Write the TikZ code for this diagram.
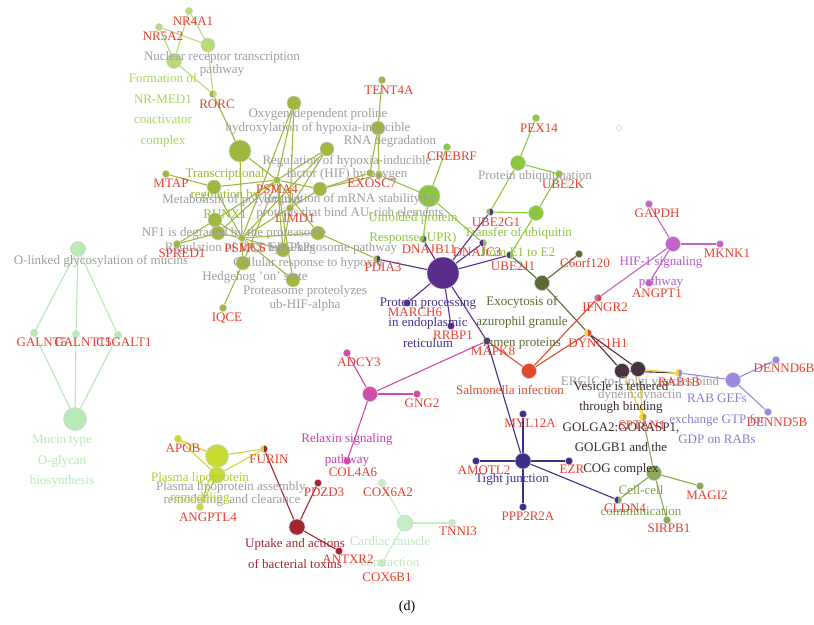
\documentclass[tikz,border=0pt]{standalone}
\usepackage{fontspec}
\setmainfont{Liberation Serif}
\usetikzlibrary{backgrounds}
\definecolor{genered}{HTML}{E8402F}
\definecolor{lgray}{HTML}{9E9E9E}
\definecolor{cLime}{HTML}{BADC76}
\definecolor{cLimeT}{HTML}{AAD463}
\definecolor{cOl}{HTML}{A0B83E}
\definecolor{cOlT}{HTML}{95B83A}
\definecolor{cGr}{HTML}{8DC63F}
\definecolor{cPu}{HTML}{5B2D8A}
\definecolor{cPuT}{HTML}{4A2C8C}
\definecolor{cDo}{HTML}{5B6B36}
\definecolor{cRed}{HTML}{E04A2C}
\definecolor{cHif}{HTML}{C463C8}
\definecolor{cHifT}{HTML}{B55CC8}
\definecolor{cRlx}{HTML}{D44AAB}
\definecolor{cRlxT}{HTML}{C93FAE}
\definecolor{cTj}{HTML}{3C2F8C}
\definecolor{cCc}{HTML}{8CA858}
\definecolor{cCcT}{HTML}{7FA04C}
\definecolor{cRab}{HTML}{9C88DC}
\definecolor{cRabT}{HTML}{8E7CD4}
\definecolor{cVes}{HTML}{4A3242}
\definecolor{cVesT}{HTML}{3A2A32}
\definecolor{cYel}{HTML}{F2D42C}
\definecolor{cPl}{HTML}{C8DA36}
\definecolor{cPlT}{HTML}{BACD2A}
\definecolor{cUp}{HTML}{A3262F}
\definecolor{cCm}{HTML}{C6EEC6}
\definecolor{cCmT}{HTML}{BDE8BD}
\definecolor{cMu}{HTML}{B9E9B9}
\begin{document}
\begin{tikzpicture}[x=1pt,y=-1pt,
  term/.style={circle, fill=#1, draw=black!18, line width=0.5pt, inner sep=0pt},
  gene/.style={circle, fill=#1, draw=black!15, line width=0.4pt, inner sep=0pt, minimum size=7.5pt},
  genetwo/.style n args={2}{circle, fill=#1, draw=black!15, line width=0.4pt, inner sep=0pt, minimum size=7.5pt,
     path picture={\fill[#2] (path picture bounding box.south) rectangle (path picture bounding box.north east);}},
  glab/.style={text=genered, inner sep=0pt, font=\fontsize{13}{13}\selectfont},
  graylab/.style={text=lgray, inner sep=0pt, align=center, font=\fontsize{13}{13.5}\selectfont},
  tlab/.style={text=#1, inner sep=0pt, align=center, font=\fontsize{13}{20.5}\selectfont},
  eg/.style={draw=#1, line width=1.1pt}
]
\useasboundingbox (0,0) rectangle (814,624);

% ---------- top-left cluster ----------
\node[term=cLime, minimum size=14pt] (nuc) at (208,45) {};
\node[term=cLime, minimum size=15pt] (form) at (174,61) {};
\node[gene=cLime] (nr4a1) at (189,11) {};
\node[gene=cLime] (nr5a2) at (159,27) {};
\node[genetwo={cOl}{cLime}] (rorc) at (213,94) {};

% ---------- olive cluster ----------
\node[term=cOl, minimum size=14pt] (toxy) at (294,103) {};
\node[term=cOl, minimum size=22pt] (trunx) at (240,151) {};
\node[term=cOl, minimum size=14pt] (thif) at (327,149) {};
\node[term=cOl, minimum size=14pt] (trna) at (378,128) {};
\node[term=cOl, minimum size=14pt] (tpoly) at (214,187) {};
\node[term=cOl, minimum size=14pt] (tmrna) at (320,189) {};
\node[term=cOl, minimum size=14pt] (tnf) at (215,220) {};
\node[term=cOl, minimum size=14pt] (treg) at (218,233) {};
\node[term=cOl, minimum size=14pt] (ter) at (318,233) {};
\node[term=cOl, minimum size=14pt] (thyp) at (283,250) {};
\node[term=cOl, minimum size=14pt] (thh) at (243,263) {};
\node[term=cOl, minimum size=14pt] (tprot) at (293,280) {};
\node[gene=cOl] (psma4) at (277,180) {};
\node[gene=cOl] (limd1) at (290,208) {};
\node[gene=cOl] (psmc6) at (242,238) {};
\node[gene=cOl] (mtap) at (166,174) {};
\node[gene=cOl] (spred1) at (177,244) {};
\node[gene=cOl] (iqce) at (223,308) {};
\node[gene=cOl] (exa) at (370,173) {};
\node[genetwo={cOl}{cGr}] (exb) at (379,175) {};
\node[gene=cOl] (tent4a) at (382,80) {};
\node[genetwo={cOl}{cPu}] (pdia3) at (377,259) {};

% ---------- green (UPR / ubiquitin) ----------
\node[term=cGr, minimum size=22pt] (upr) at (429,196) {};
\node[term=cGr, minimum size=15pt] (pu) at (518,163) {};
\node[term=cGr, minimum size=15pt] (tu) at (536,213) {};
\node[gene=cGr] (crebrf) at (447,147) {};
\node[genetwo={cGr}{cPu}] (dnajb11) at (423,239) {};
\node[genetwo={cPu}{cGr}] (dnajc3) at (483,243) {};
\node[gene=cGr] (pex14) at (536,118) {};
\node[gene=cGr] (ube2k) at (559,174) {};
\node[genetwo={cGr}{cPu}] (ube2g1) at (490,212) {};
\node[genetwo={cPu}{cGr}] (ube2j1) at (510,255) {};

% ---------- purple ----------
\node[term=cPu, minimum size=32pt] (pp) at (443,273) {};
\node[gene=cPu] (march6) at (407,303) {};
\node[gene=cPu] (rrbp1) at (451,326) {};
\node[genetwo={cPu}{cTj}] (mapk8) at (487,341) {};

% ---------- exocytosis ----------
\node[term=cDo, minimum size=15pt] (exo) at (542,283) {};
\node[gene=cDo] (c6orf) at (579,254) {};

% ---------- HIF ----------
\node[term=cHif, minimum size=15pt] (hif) at (673,244) {};
\node[gene=cHif] (gapdh) at (649,204) {};
\node[gene=cHif] (mknk1) at (720,244) {};
\node[gene=cHif] (angpt1) at (649,283) {};
\node[genetwo={cHif}{cRed}] (ifngr2) at (598,298) {};

% ---------- salmonella ----------
\node[term=cRed, minimum size=15pt] (salm) at (529,371) {};
\node[genetwo={cYel}{cRed}] (dync) at (588,333) {};

% ---------- relaxin ----------
\node[term=cRlx, minimum size=15pt] (rlx) at (370,394) {};
\node[gene=cRlx] (adcy3) at (347,353) {};
\node[gene=cRlx] (gng2) at (417,394) {};
\node[gene=cRlx] (col4a6) at (347,461) {};

% ---------- vesicle ----------
\node[term=cVes, minimum size=15pt] (vesa) at (622,371) {};
\node[term=cVes, minimum size=15pt] (vesb) at (638,369) {};
\node[genetwo={cYel}{cRab}] (rab1b) at (679,373) {};
\node[genetwo={cYel}{cCc}] (sptan1) at (643,417) {};

% ---------- RAB GEFs ----------
\node[term=cRab, minimum size=15pt] (rab) at (733,380) {};
\node[gene=cRab] (dennd6b) at (776,360) {};
\node[gene=cRab] (dennd5b) at (768,412) {};

% ---------- tight junction ----------
\node[term=cTj, minimum size=16pt] (tj) at (523,461) {};
\node[gene=cTj] (myl12a) at (523,414) {};
\node[gene=cTj] (ezr) at (569,461) {};
\node[gene=cTj] (ppp2r2a) at (523,507) {};
\node[gene=cTj] (amotl2) at (476,461) {};
\node[genetwo={cTj}{cCc}] (cldn4) at (618,500) {};

% ---------- cell-cell ----------
\node[term=cCc, minimum size=15pt] (cc) at (654,473) {};
\node[gene=cCc] (magi2) at (700,486) {};
\node[gene=cCc] (sirpb1) at (667,520) {};

% ---------- mucin ----------
\node[term=cMu, minimum size=15pt] (olk) at (78,249) {};
\node[term=cMu, minimum size=23pt] (muc) at (75,419) {};
\node[gene=cMu] (galnta) at (34,333) {};
\node[gene=cMu] (galntb) at (76,334) {};
\node[gene=cMu] (c1galt1) at (118,335) {};

% ---------- plasma lipoprotein ----------
\node[term=cPl, minimum size=23pt] (pla) at (217,456) {};
\node[term=cPl, minimum size=16pt] (plr) at (217,475) {};
\node[gene=cPl] (apob) at (178,439) {};
\node[gene=cPl] (angptl4) at (200,507) {};
\node[genetwo={cPl}{cUp}] (furin) at (264,449) {};

% ---------- uptake ----------
\node[term=cUp, minimum size=16pt] (upt) at (297,527) {};
\node[gene=cUp] (pdzd3) at (318,483) {};
\node[gene=cUp] (antxr2) at (339,551) {};

% ---------- cardiac ----------
\node[term=cCm, minimum size=16pt] (card) at (405,523) {};
\node[gene=cCm] (cox6a2) at (382,483) {};
\node[gene=cCm] (tnni3) at (452,523) {};
\node[gene=cCm] (cox6b1) at (382,563) {};

\node[circle, draw=black!20, line width=0.6pt, inner sep=0pt, minimum size=5pt] (iso) at (619,128) {};

% ---------- edges ----------
\begin{scope}[on background layer]
\fill[white] (0,0) rectangle (814,624);
\foreach \a/\b in {nr5a2/form, nr5a2/nuc, nr4a1/nuc, nr4a1/form, form/rorc, nuc/rorc}
  \draw[eg=cLime] (\a) -- (\b);
\foreach \t in {toxy,trunx,thif,tpoly,tmrna,tnf,treg,ter,thyp,thh,tprot}{
  \draw[eg=cOl] (psma4) -- (\t);
  \draw[eg=cOl] (psmc6) -- (\t);}
\foreach \a/\b in {limd1/toxy, limd1/thif, limd1/thyp, mtap/tpoly, spred1/tnf, spred1/treg, iqce/thh,
  rorc/trunx, exa/trna, exb/trna, exa/tmrna, exb/tmrna, tent4a/trna, pdia3/ter}
  \draw[eg=cOl] (\a) -- (\b);
\foreach \a/\b in {crebrf/upr, dnajb11/upr, dnajc3/upr, exb/upr, pex14/pu, ube2k/pu, ube2k/tu,
  ube2g1/pu, ube2g1/tu, ube2j1/tu}
  \draw[eg=cGr] (\a) -- (\b);
\foreach \g in {pdia3, dnajb11, ube2g1, dnajc3, ube2j1, march6, rrbp1, mapk8}
  \draw[eg=cPu] (pp) -- (\g);
\foreach \g in {c6orf, ube2j1, dync}
  \draw[eg=cDo] (exo) -- (\g);
\foreach \g in {mapk8, ifngr2, dync}
  \draw[eg=cRed] (salm) -- (\g);
\foreach \g in {gapdh, mknk1, angpt1, ifngr2}
  \draw[eg=cHif] (hif) -- (\g);
\foreach \g in {adcy3, gng2, col4a6, mapk8}
  \draw[eg=cRlx] (rlx) -- (\g);
\draw[eg=cVes] (dync) -- (vesa);
\draw[eg=cVes] (dync) -- (vesb);
\draw[eg=cVes] (vesa) -- (rab1b);
\draw[eg=cYel] (vesb) -- (rab1b);
\draw[eg=cYel] (vesa) -- (sptan1);
\draw[eg=cYel] (vesb) -- (sptan1);
\foreach \g in {rab1b, dennd6b, dennd5b}
  \draw[eg=cRab] (rab) -- (\g);
\foreach \g in {myl12a, ezr, ppp2r2a, amotl2, cldn4, mapk8}
  \draw[eg=cTj] (tj) -- (\g);
\foreach \g in {sptan1, magi2, sirpb1, cldn4}
  \draw[eg=cCc] (cc) -- (\g);
\foreach \g in {galnta, galntb, c1galt1}{
  \draw[eg=cMu] (olk) -- (\g);
  \draw[eg=cMu] (\g) -- (muc);}
\foreach \g in {apob, furin, angptl4}{
  \draw[eg=cPl] (pla) -- (\g);
  \draw[eg=cPl] (plr) -- (\g);}
\foreach \g in {furin, pdzd3, antxr2}
  \draw[eg=cUp] (upt) -- (\g);
\foreach \g in {cox6a2, tnni3, cox6b1}
  \draw[eg=cCm] (card) -- (\g);
\end{scope}

% ---------- term labels ----------
\node[graylab] (l-nuc) at (222,64) {Nuclear receptor transcription\\pathway};
\node[tlab=cLimeT] (l-form) at (163,110.5) {Formation of\\NR-MED1\\coactivator\\complex};
\node[graylab] (l-oxy) at (318,121.5) {Oxygen-dependent proline\\hydroxylation of hypoxia-inducible};
\node[graylab] (l-rna) at (390,141) {RNA degradation};
\node[graylab] (l-hif2) at (347,168) {Regulation of hypoxia-inducible\\factor (HIF) by oxygen};
\node[graylab] (l-poly) at (232,200) {Metabolism of polyamines};
\node[graylab] (l-mrna) at (350,206.5) {Regulation of mRNA stability by\\proteins that bind AU-rich elements};
\node[tlab=cOlT] (l-runx) at (225,194) {Transcriptional\\regulation by\\RUNX1};
\node[graylab] (l-nf) at (234,233) {NF1 is degraded by the proteasome};
\node[graylab] (l-reg) at (240,248) {Regulation of RAS by GAPs};
\node[graylab] (l-er) at (333,248) {ER-Phagosome pathway};
\node[graylab] (l-hyp) at (308,263) {Cellular response to hypoxia};
\node[graylab] (l-hh) at (255,277) {Hedgehog 'on' state};
\node[graylab] (l-prot) at (305,298.5) {Proteasome proteolyzes\\ub-HIF-alpha};
\node[tlab=cGr] (l-upr) at (413,228.5) {Unfolded protein\\Response (UPR)};
\node[graylab] (l-pu) at (535,176) {Protein ubiquitination};
\node[tlab=cGr] (l-tu) at (518,242) {Transfer of ubiquitin\\from E1 to E2};
\node[tlab=cPuT] (l-pp) at (428,322.5) {Protein processing\\in endoplasmic\\reticulum};
\node[tlab=cDo] (l-exo) at (522,322.5) {Exocytosis of\\azurophil granule\\lumen proteins};
\node[tlab=cHifT] (l-hif) at (661,272.5) {HIF-1 signaling\\pathway};
\node[tlab=cRed] (l-salm) at (510,390) {Salmonella infection};
\node[tlab=cRlxT] (l-rlx) at (347,450) {Relaxin signaling\\pathway};
\node[graylab] (l-ergic) at (640,389) {ERGIC-to-Golgi vesicles bind\\dynein:dynactin};
\node[tlab=cVesT] (l-ves) at (621,428) {Vesicle is tethered\\through binding\\GOLGA2:GORASP1,\\GOLGB1 and the\\COG complex};
\node[tlab=cRabT] (l-rab) at (717,419) {RAB GEFs\\exchange GTP for\\GDP on RABs};
\node[tlab=cTj] (l-tj) at (512,479) {Tight junction};
\node[tlab=cCcT] (l-cc) at (641,500.5) {Cell-cell\\communication};
\node[graylab] (l-olk) at (101,261) {O-linked glycosylation of mucins};
\node[tlab=cMu] (l-muc) at (62,461.5) {Mucin type\\O-glycan\\biosynthesis};
\node[graylab] (l-pla) at (232,494) {Plasma lipoprotein assembly,\\remodeling, and clearance};
\node[tlab=cPlT] (l-plr) at (200,488.5) {Plasma lipoprotein\\remodeling};
\node[tlab=cUp] (l-upt) at (295,553.5) {Uptake and actions\\of bacterial toxins};
\node[tlab=cCmT] (l-card) at (390,551.5) {Cardiac muscle\\contraction};

% ---------- gene labels ----------
\node[glab] (t-nr4a1) at (193,21) {NR4A1};
\node[glab] (t-nr5a2) at (163,36) {NR5A2};
\node[glab] (t-rorc) at (217,104) {RORC};
\node[glab] (t-tent4a) at (389,90) {TENT4A};
\node[glab] (t-mtap) at (171,183) {MTAP};
\node[glab] (t-psma4) at (277,189) {PSMA4};
\node[glab] (t-exa) at (372,183) {EXOSC7};
\node[glab] (t-limd1) at (295,218) {LIMD1};
\node[glab] (t-psmc6) at (245,248) {PSMC6};
\node[glab] (t-spred1) at (182,253) {SPRED1};
\node[glab] (t-iqce) at (227,318) {IQCE};
\node[glab] (t-pdia3) at (383,267) {PDIA3};
\node[glab] (t-crebrf) at (452,156) {CREBRF};
\node[glab] (t-pex14) at (539,128) {PEX14};
\node[glab] (t-ube2k) at (563,184) {UBE2K};
\node[glab] (t-ube2g1) at (496,222) {UBE2G1};
\node[glab] (t-dnajb11) at (429,249) {DNAJB11};
\node[glab] (t-dnajc3) at (477,252) {DNAJC3};
\node[glab] (t-ube2j1) at (513,266) {UBE2J1};
\node[glab] (t-c6orf) at (585,263) {C6orf120};
\node[glab] (t-march6) at (415,312) {MARCH6};
\node[glab] (t-rrbp1) at (453,335) {RRBP1};
\node[glab] (t-mapk8) at (493,351) {MAPK8};
\node[glab] (t-gapdh) at (657,213) {GAPDH};
\node[glab] (t-mknk1) at (727,253) {MKNK1};
\node[glab] (t-angpt1) at (657,293) {ANGPT1};
\node[glab] (t-ifngr2) at (605,307) {IFNGR2};
\node[glab] (t-dync) at (598,343) {DYNC1H1};
\node[glab] (t-adcy3) at (359,362) {ADCY3};
\node[glab] (t-gng2) at (422,403) {GNG2};
\node[glab] (t-col4a6) at (353,472) {COL4A6};
\node[glab] (t-rab1b) at (679,382) {RAB1B};
\node[glab] (t-sptan1) at (642,425) {SPTAN1};
\node[glab] (t-dennd6b) at (784,368) {DENND6B};
\node[glab] (t-dennd5b) at (777,422) {DENND5B};
\node[glab] (t-myl12a) at (530,423) {MYL12A};
\node[glab] (t-ezr) at (572,469) {EZR};
\node[glab] (t-ppp2r2a) at (528,516) {PPP2R2A};
\node[glab] (t-amotl2) at (484,470) {AMOTL2};
\node[glab] (t-cldn4) at (625,508) {CLDN4};
\node[glab] (t-magi2) at (707,495) {MAGI2};
\node[glab] (t-sirpb1) at (669,528) {SIRPB1};
\node[glab] (t-galnta) at (42,342) {GALNT5};
\node[glab] (t-galntb) at (83,342) {GALNT15};
\node[glab] (t-c1galt1) at (124,342) {C1GALT1};
\node[glab] (t-apob) at (183,448) {APOB};
\node[glab] (t-angptl4) at (208,517) {ANGPTL4};
\node[glab] (t-furin) at (269,459) {FURIN};
\node[glab] (t-pdzd3) at (324,492) {PDZD3};
\node[glab] (t-antxr2) at (348,559) {ANTXR2};
\node[glab] (t-cox6a2) at (388,492) {COX6A2};
\node[glab] (t-tnni3) at (458,531) {TNNI3};
\node[glab] (t-cox6b1) at (387,577) {COX6B1};

\node[inner sep=0pt, font=\fontsize{14}{14}\selectfont] (cap) at (407,607) {(d)};
\end{tikzpicture}
\end{document}
